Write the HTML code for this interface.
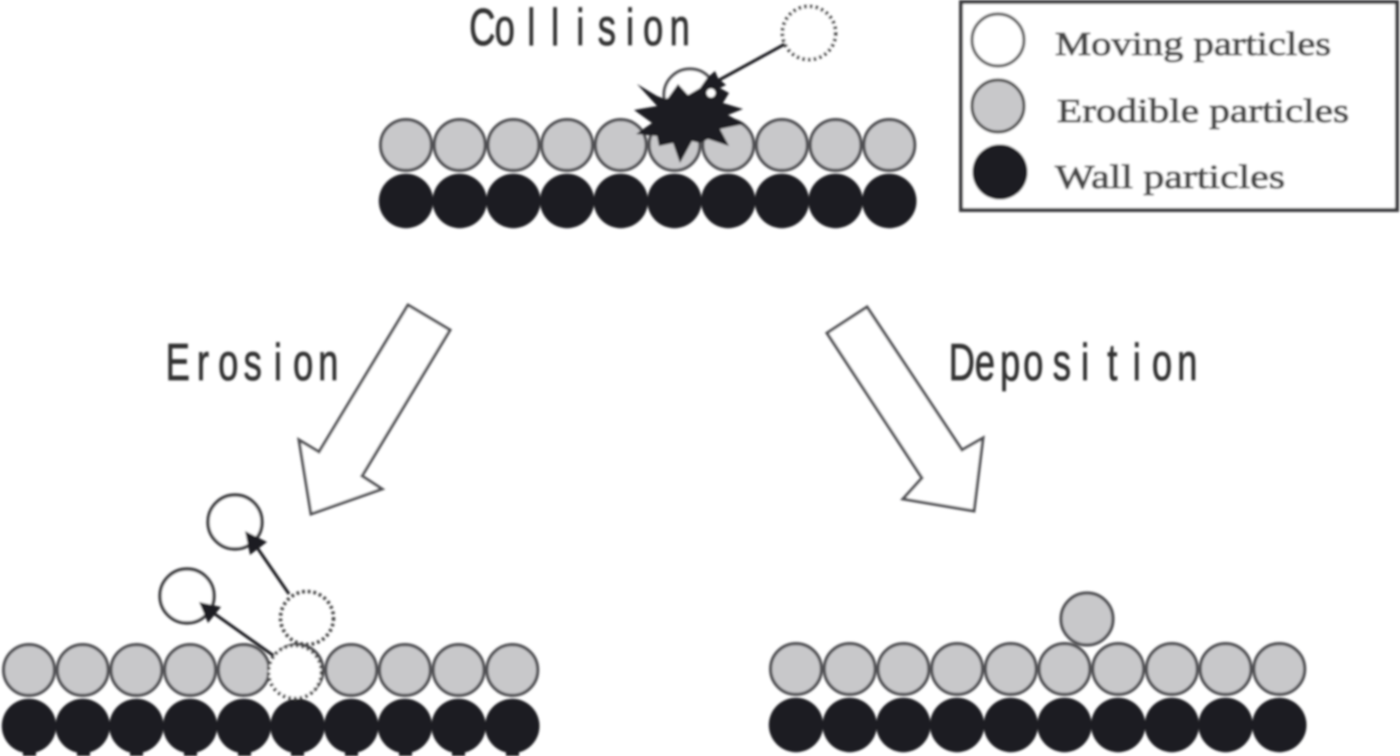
<!DOCTYPE html>
<html><head><meta charset="utf-8"><style>
html,body{margin:0;padding:0;background:#fff;width:1400px;height:756px;overflow:hidden}
svg{display:block}
.h{font-family:"Liberation Sans",sans-serif;font-size:52px;fill:#333;stroke:#333;stroke-width:.8;text-anchor:middle}
.s{font-family:"Liberation Serif",serif;font-size:34px;fill:#444;stroke:#555;stroke-width:1}
</style></head><body>
<svg width="1400" height="756" viewBox="0 0 1400 756" xmlns="http://www.w3.org/2000/svg">
<defs>
<filter id="b" x="0" y="0" width="1400" height="756" filterUnits="userSpaceOnUse"><feGaussianBlur stdDeviation="1"/></filter>
<g id="row">
<g fill="#1d1d20">
<circle cx="0" cy="56" r="27.2"/><circle cx="53.7" cy="56" r="27.2"/><circle cx="107.4" cy="56" r="27.2"/><circle cx="161.1" cy="56" r="27.2"/><circle cx="214.8" cy="56" r="27.2"/><circle cx="268.5" cy="56" r="27.2"/><circle cx="322.2" cy="56" r="27.2"/><circle cx="375.9" cy="56" r="27.2"/><circle cx="429.6" cy="56" r="27.2"/><circle cx="483.3" cy="56" r="27.2"/>
</g>
<g fill="#c8c8ca" stroke="#505052" stroke-width="3.2">
<circle cx="0" cy="0" r="25.4"/><circle cx="53.7" cy="0" r="25.4"/><circle cx="107.4" cy="0" r="25.4"/><circle cx="161.1" cy="0" r="25.4"/><circle cx="214.8" cy="0" r="25.4"/><circle cx="268.5" cy="0" r="25.4"/><circle cx="322.2" cy="0" r="25.4"/><circle cx="375.9" cy="0" r="25.4"/><circle cx="429.6" cy="0" r="25.4"/><circle cx="483.3" cy="0" r="25.4"/>
</g>
</g>
</defs>
<g filter="url(#b)">
<use href="#row" x="406" y="145"/>
<use href="#row" x="29" y="670"/>
<use href="#row" x="796" y="669"/>
<g fill="#1d1d20">
<rect x="23" y="751" width="13" height="5"/><rect x="77" y="751" width="13" height="5"/><rect x="130" y="751" width="13" height="5"/><rect x="184" y="751" width="13" height="5"/><rect x="238" y="751" width="13" height="5"/><rect x="291" y="751" width="13" height="5"/><rect x="345" y="751" width="13" height="5"/><rect x="399" y="751" width="13" height="5"/><rect x="452" y="751" width="13" height="5"/><rect x="506" y="751" width="13" height="5"/>
</g>

<!-- collision -->
<circle cx="690" cy="95" r="26" fill="#fff" stroke="#505052" stroke-width="3.2"/>
<circle cx="809" cy="33" r="26.5" fill="#fff" stroke="#444" stroke-width="3.6" stroke-dasharray="2.8 2.9"/>
<line x1="785" y1="44" x2="710" y2="85" stroke="#1d1d20" stroke-width="3"/>
<polygon fill="#1d1d20" points="637,84 657,96 665,99 668,98 678,84 688,95 700,88 707,78 715,71 718,78 726,85 720,88 729,93 723,103 743,109 728,115 744,124 720,129 729,146 708,139 700,143 692,141 680,163 673,143 659,146 657,136 636,134 652,123 634,110 657,106"/>
<circle cx="711" cy="93" r="4.5" fill="#fff"/>

<!-- legend -->
<rect x="961" y="2" width="436" height="208" fill="#fff" stroke="#3c3c40" stroke-width="4"/>
<circle cx="998" cy="40" r="26" fill="#fff" stroke="#666" stroke-width="3.2"/>
<circle cx="998" cy="106" r="26" fill="#c8c8ca" stroke="#555" stroke-width="3.2"/>
<circle cx="1000" cy="172" r="27.5" fill="#1d1d20"/>
<text class="s" x="1055" y="55" textLength="276" lengthAdjust="spacingAndGlyphs">Moving particles</text>
<text class="s" x="1057" y="122" textLength="292" lengthAdjust="spacingAndGlyphs">Erodible particles</text>
<text class="s" x="1055" y="188" textLength="230" lengthAdjust="spacingAndGlyphs">Wall particles</text>

<!-- headings -->
<g transform="scale(0.7 1)">
<text class="h" y="45" x="689 721 759 793 829 867 900 933 971">Collision</text>
<text class="h" y="380" x="254 290 326 361 397 433 469">Erosion</text>
<text class="h" y="380" x="1374 1407 1443 1476 1517 1550 1589 1624 1660 1696">Deposition</text>
</g>

<!-- hollow arrows -->
<polygon points="408,305 450,330 362,476 382,489 311,514 299,440 319,452" fill="#fff" stroke="#505052" stroke-width="3" stroke-linejoin="miter"/>
<polygon points="867,307 827,333 922,478 903,499 974,511 983,438 962,450" fill="#fff" stroke="#505052" stroke-width="3" stroke-linejoin="miter"/>

<!-- erosion particles -->
<circle cx="235" cy="522" r="27" fill="#fff" stroke="#3c3c40" stroke-width="3.4"/>
<circle cx="187" cy="596" r="27" fill="#fff" stroke="#3c3c40" stroke-width="3.4"/>
<circle cx="295" cy="672" r="26.5" fill="#fff" stroke="#444" stroke-width="3.6" stroke-dasharray="2.8 2.9"/>
<circle cx="307" cy="618" r="26.5" fill="none" stroke="#444" stroke-width="3.6" stroke-dasharray="2.8 2.9"/>
<line x1="289" y1="594" x2="256" y2="546" stroke="#1d1d20" stroke-width="3"/>
<polygon points="245,531 267,542 250,555" fill="#1d1d20"/>
<line x1="274" y1="656" x2="212" y2="612" stroke="#1d1d20" stroke-width="3"/>
<polygon points="199,602 221,607 208,623" fill="#1d1d20"/>

<!-- deposition particle -->
<circle cx="1087" cy="619" r="26" fill="#c8c8ca" stroke="#505052" stroke-width="3.2"/>
</g>
</svg>
</body></html>
